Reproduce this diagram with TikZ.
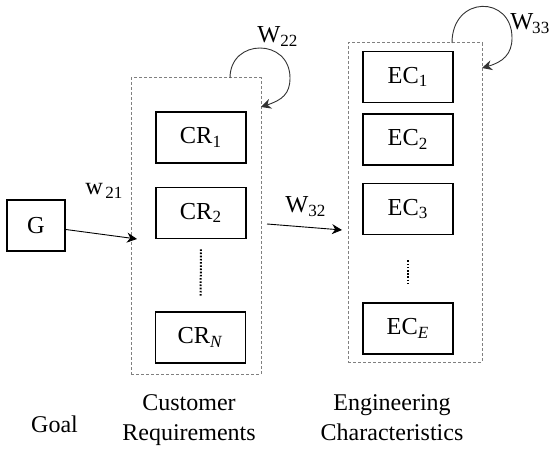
\documentclass[tikz,border=0pt]{standalone}
\usepackage{fontspec}
\setmainfont{Liberation Serif}
\usetikzlibrary{positioning,arrows.meta}
\definecolor{grpline}{HTML}{808080}
\definecolor{loopline}{HTML}{333333}
\tikzset{
  elem/.style={
    draw=black, line width=0.8pt, inner sep=0pt,
    minimum width=45pt, minimum height=25.5pt,
    font=\fontsize{12.2}{14}\selectfont},
  grp/.style={
    draw=grpline, line width=0.5pt, dash pattern=on 1.5pt off 1pt,
    inner sep=0pt},
  link/.style={draw=black, line width=0.45pt, -{Stealth[length=5pt,width=5pt]}},
  selflink/.style={draw=loopline, line width=0.45pt, -{Stealth[length=5pt,width=5pt]}},
  vdots/.style={draw=black, line width=1pt, dash pattern=on 0.8pt off 0.8pt},
  wlabel/.style={font=\fontsize{12.2}{14}\selectfont, inner sep=0pt, anchor=base west},
  caption/.style={font=\fontsize{12}{15}\selectfont, align=center, inner sep=0pt, anchor=base},
}
\begin{document}
\begin{tikzpicture}[x=0.5pt, y=-0.5pt]
  \useasboundingbox (0,0) rectangle (550,453);

  % groups
  \node[grp, minimum width=65pt, minimum height=148pt] (crgrp) at (196,226) {};
  \node[grp, minimum width=67pt, minimum height=159.5pt] (ecgrp) at (415,202.5) {};

  % goal
  \node[elem, minimum width=29pt] (g) at (36,225.5) {G};

  % customer requirements
  \node[elem] (cr1) at (201,137.5) {CR\textsubscript{1}};
  \node[elem] (cr2) at (201,213) {CR\textsubscript{2}};
  \node[elem] (crn) at (200.5,337.5) {CR\textsubscript{\textit{N}}};
  \draw[vdots, shorten <=5pt, shorten >=7.5pt] (cr2.south) -- (crn.north);

  % engineering characteristics
  \node[elem] (ec1) at (408,77) {EC\textsubscript{1}};
  \node[elem, below=5pt of ec1] (ec2) {EC\textsubscript{2}};
  \node[elem, below=8.5pt of ec2] (ec3) {EC\textsubscript{3}};
  \node[elem] (ece) at (408,328.5) {EC\textsubscript{\textit{E}}};
  \draw[vdots, shorten <=12.5pt, shorten >=8.5pt] (ec3.south) -- (ece.north);

  % weights
  \coordinate (g-in) at (137,239);
  \draw[link] ([yshift=-2pt]g.east) -- (g-in);
  \node[wlabel] (w21) at (85,195) {w\textsubscript{\kern1.2pt21}};

  \coordinate (w32-out) at (267,224);
  \coordinate (w32-in) at (342,230);
  \draw[link] (w32-out) -- (w32-in);
  \node[wlabel] (w32) at (285,213) {W\textsubscript{32}};

  \coordinate (w22-out) at (230,78);
  \coordinate (w22-in) at (261,107);
  \draw[selflink] (w22-out) .. controls (230,38) and (290,38) .. (290,78)
    .. controls (290,94) and (282,100) .. (w22-in);
  \node[wlabel] (w22) at (257,43) {W\textsubscript{22}};

  \coordinate (w33-out) at (452,43);
  \coordinate (w33-in) at (482,68);
  \draw[selflink] (w33-out) .. controls (452,-5) and (512,-5) .. (512,38)
    .. controls (512,54) and (503,62) .. (w33-in);
  \node[wlabel] (w33) at (510,30) {W\textsubscript{\kern-0.6pt33}};

  % captions
  \node[caption] (goal) at (54.5,432) {Goal};
  \node[caption] (crcap) at (189,440) {Customer\\Requirements};
  \node[caption] (eccap) at (392,440) {Engineering\\Characteristics};
\end{tikzpicture}
\end{document}
